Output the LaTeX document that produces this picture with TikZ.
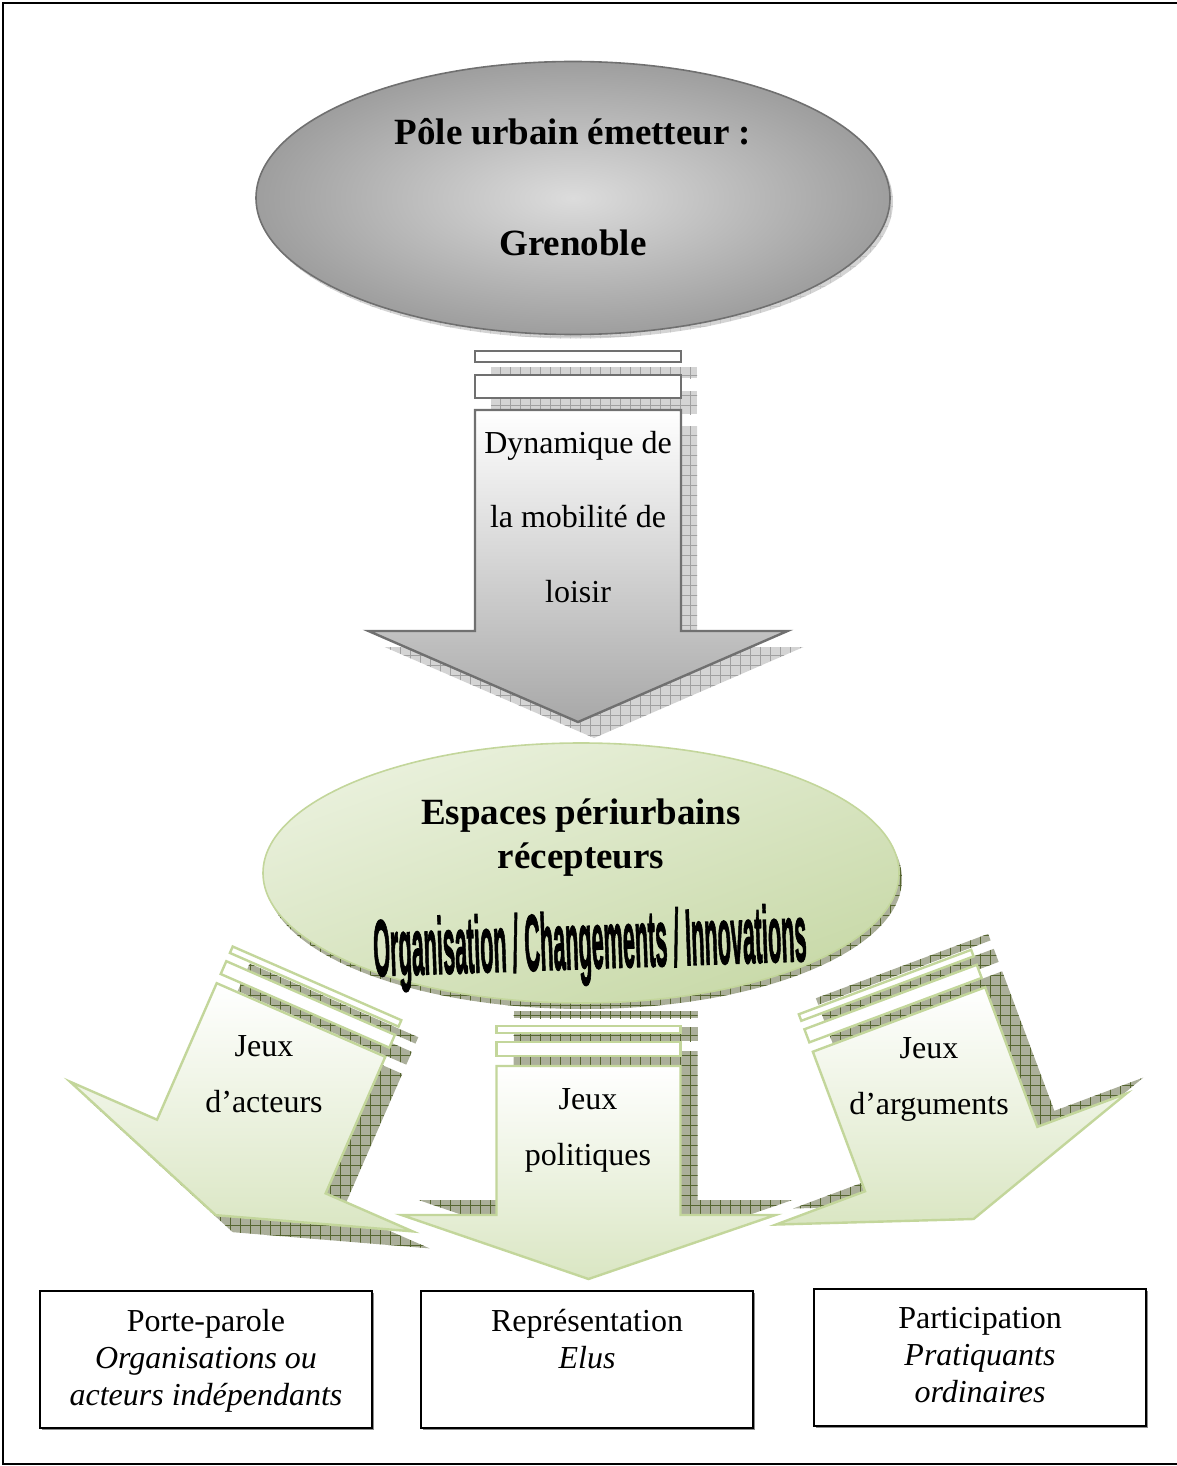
\documentclass[tikz,border=0pt]{standalone}
\usepackage{fontspec}
\usepackage{graphicx}
\setmainfont{Liberation Serif}
\newfontfamily\artfont{Liberation Sans}[BoldFeatures={FakeBold=2}]
\usetikzlibrary{shapes.geometric,patterns.meta,positioning,shadows}

\definecolor{greyline}{HTML}{707070}
\definecolor{greydark}{HTML}{A8A8A8}
\definecolor{greyinner}{HTML}{DCDCDC}
\definecolor{greyouter}{HTML}{9E9E9E}
\definecolor{greyshadow}{HTML}{D4D4D4}
\definecolor{greygrid}{HTML}{A0A0A0}
\definecolor{greyfaint}{HTML}{C4C4C4}
\definecolor{oliveline}{HTML}{C3D69B}
\definecolor{olivelight}{HTML}{EAF1DD}
\definecolor{olivemid}{HTML}{DAE6C3}
\definecolor{olivedeep}{HTML}{C8D9A8}
\definecolor{oliveshadow}{HTML}{ABAF9A}
\definecolor{olivegrid}{HTML}{55652F}

\tikzset{
  greyshade/.style={preaction={fill=greyshadow},pattern={Hatch[distance=5pt,angle=0,line width=0.5pt]},pattern color=greygrid},
  faintshade/.style={preaction={fill=greyshadow},pattern={Hatch[distance=5pt,angle=0,line width=0.4pt]},pattern color=greyfaint},
  oliveshade/.style={preaction={fill=oliveshadow},pattern={Hatch[distance=5pt,angle=0,line width=0.5pt]},pattern color=olivegrid},
  greyarrow/.style={draw=greyline,line width=1.2pt,top color=white,bottom color=greydark},
  greyband/.style={draw=greyline,line width=1.2pt,fill=white},
  greenarrow/.style={draw=oliveline,line width=1.2pt,top color=white,bottom color=olivemid},
  greenband/.style={draw=oliveline,line width=1.2pt,fill=white},
  arrowtext/.style={inner sep=0pt,align=center,font=\fontsize{16}{28}\selectfont},
  boxtext/.style={inner sep=0pt,align=center,font=\fontsize{16}{18.5}\selectfont},
  outcome/.style={draw,line width=1pt,fill=white,minimum width=166pt,minimum height=68.5pt,
    drop shadow={shadow xshift=1pt,shadow yshift=-1pt,fill=black!45,opacity=1}},
}

% block arrows pointing down, origin in the middle of the shaft top
\newcommand{\greybody}[2]{%
  \path[#1] (-103,0) -- (103,0) -- (103,221) -- (209.5,221) -- (0,312) -- (-209.5,221) -- (-103,221) -- cycle;
  \path[#2] (-103,-59) rectangle (103,-48);
  \path[#2] (-103,-35) rectangle (103,-12);}
\newcommand{\greenbody}[2]{%
  \path[#1] (-92,0) -- (92,0) -- (92,149) -- (187,149) -- (0,213) -- (-187,149) -- (-92,149) -- cycle;
  \path[#2] (-92,-40) rectangle (92,-33);
  \path[#2] (-92,-24) rectangle (92,-10);}

\begin{document}
\begin{tikzpicture}[x=0.5pt,y=-0.5pt]
\useasboundingbox (0,0) rectangle (1177,1466);
\draw[line width=1.2pt] (3,3) rectangle (1190,1464);

% emitting pole
\path[faintshade] (576,202) ellipse [x radius=158.5pt,y radius=68.25pt];
\node[ellipse,draw=greyline,line width=0.8pt,minimum width=317pt,minimum height=136.5pt,
  inner color=greyinner,outer color=greyouter] (pole) at (573,198) {};
\node[inner sep=0pt,align=center,font=\fontsize{18.5}{55.5}\selectfont\bfseries] (polelabel) at (573,187) {Pôle urbain émetteur :\\Grenoble};

% mobility arrow
\begin{scope}[shift={(594,426)}]
\greybody{greyshade}{greyshade}
\end{scope}
\begin{scope}[shift={(578,410)}]
\greybody{greyarrow}{greyband}
\end{scope}
\node[arrowtext,font=\fontsize{16}{37.25}\selectfont] (mobility) at (578,516.6) {Dynamique de\\la mobilité de\\loisir};

% the three games
\begin{scope}[shift={(318,1037)},rotate=-23.6]
\greenbody{oliveshade}{oliveshade}
\end{scope}
\begin{scope}[shift={(301,1020)},rotate=-23.6]
\greenbody{greenarrow}{greenband}
\end{scope}
\begin{scope}[shift={(605.5,1051)}]
\greenbody{oliveshade}{oliveshade}
\end{scope}
\begin{scope}[shift={(588.5,1066)}]
\greenbody{greenarrow}{greenband}
\end{scope}
\begin{scope}[shift={(916,1003.5)},rotate=20.5]
\greenbody{oliveshade}{oliveshade}
\end{scope}
\begin{scope}[shift={(899,1019.5)},rotate=20.5]
\greenbody{greenarrow}{greenband}
\end{scope}
\node[arrowtext] (acteurs) at (264,1074) {Jeux\\d’acteurs};
\node[arrowtext] (politiques) at (588,1130.5) {Jeux\\politiques};
\node[arrowtext] (arguments) at (929,1079) {Jeux\\d’arguments};

% receiving spaces
\path[oliveshade] (584,879) ellipse [x radius=159pt,y radius=65pt];
\node[ellipse,draw=oliveline,line width=0.8pt,minimum width=318pt,minimum height=130pt,
  top color=olivelight,bottom color=olivedeep,shading angle=20] (espaces) at (581,873) {};
\node[inner sep=0pt,align=center,font=\fontsize{18.5}{22}\selectfont\bfseries] (espaceslabel) at (581,837.5) {Espaces périurbains\\récepteurs};
\node[inner sep=0pt,rotate=2] (changes) at (590,948) {\artfont\bfseries\fontsize{20}{20}\selectfont\scalebox{0.54}[2.0]{Organisation / Changements / Innovations}};

% outcomes
\node[outcome] (porte) at (206,1359.5) {};
\node[outcome] (repr) at (587,1359.5) {};
\node[outcome] (partic) at (980,1357.5) {};
\node[boxtext,below=9.5pt of porte.north] (portetxt) {Porte-parole\\\textit{Organisations ou}\\\textit{acteurs indépendants}};
\node[boxtext,below=9.5pt of repr.north] (reprtxt) {Représentation\\\textit{Elus}};
\node[boxtext,below=9.5pt of partic.north] (partictxt) {Participation\\\textit{Pratiquants}\\\textit{ordinaires}};
\end{tikzpicture}
\end{document}
